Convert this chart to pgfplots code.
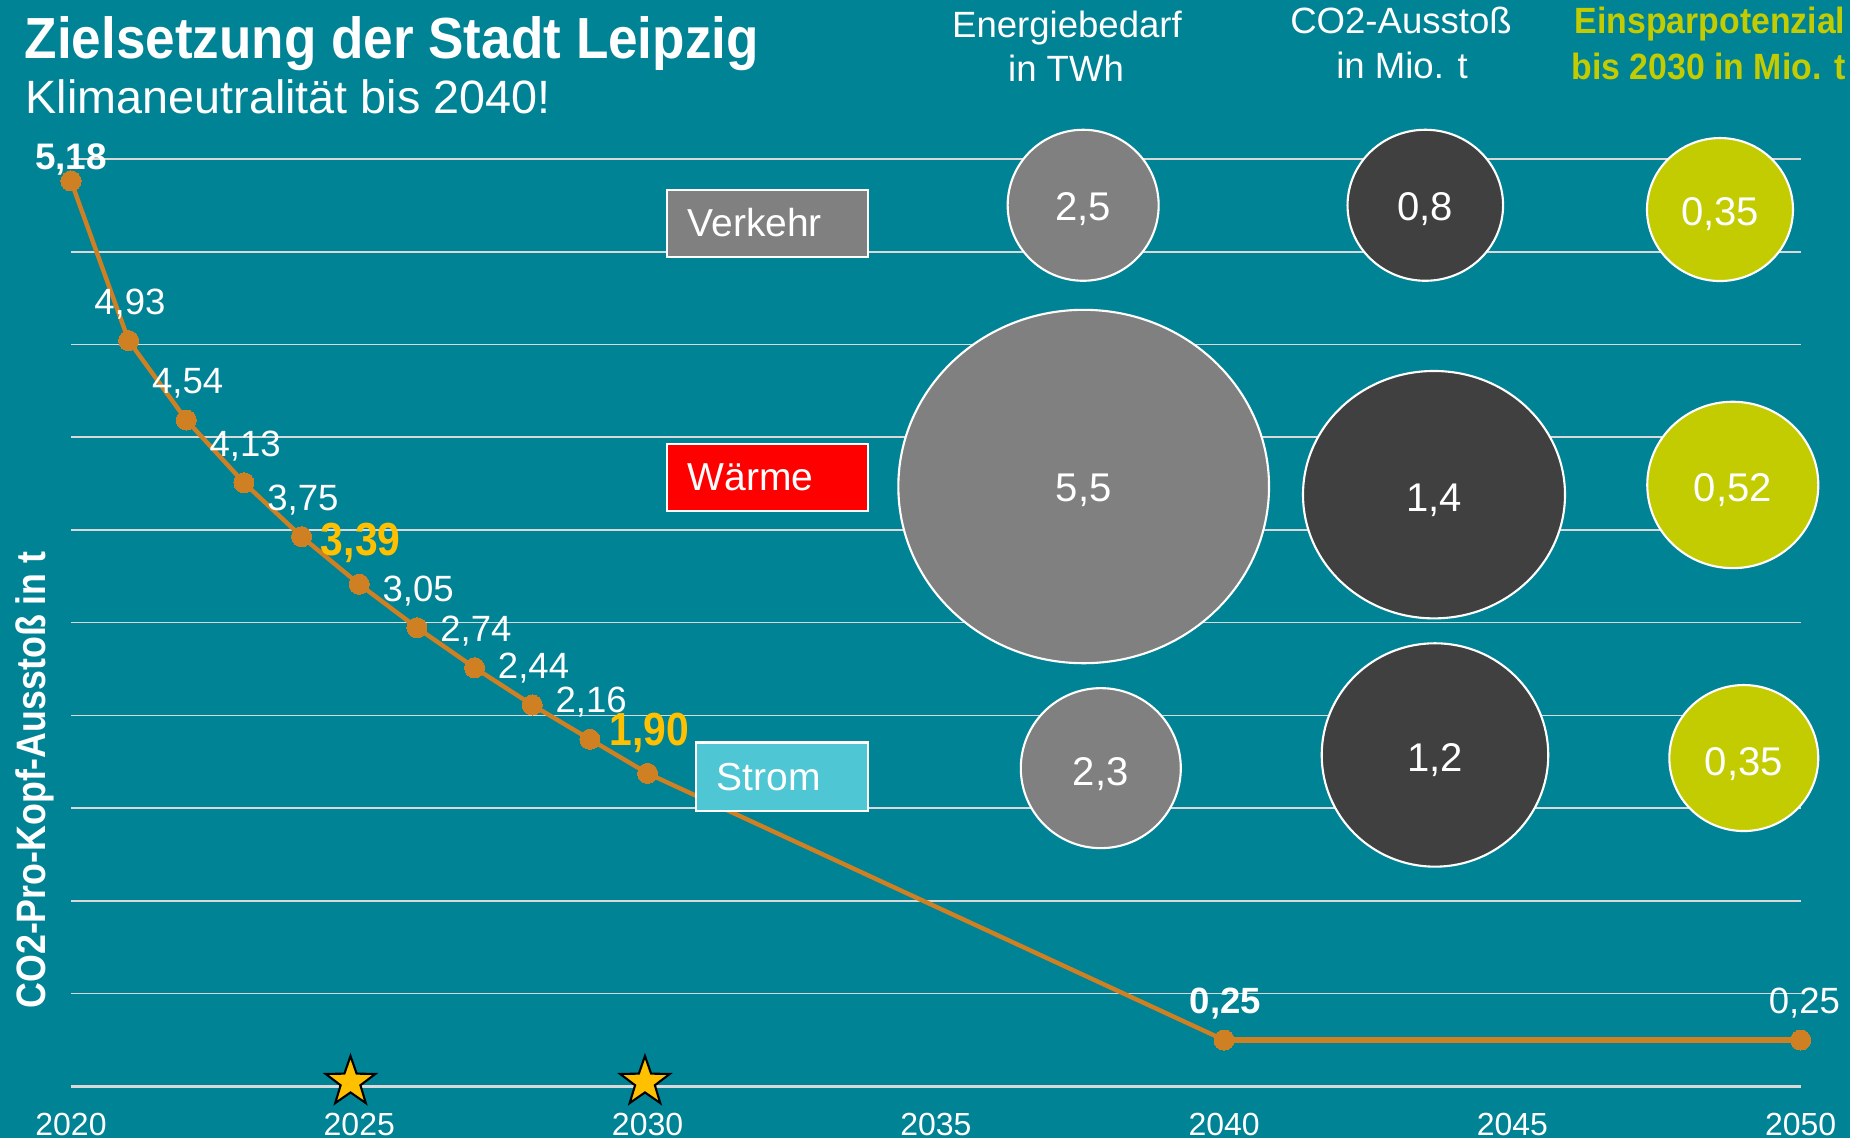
\documentclass[border=0pt]{standalone}
\usepackage{fontspec}
\setmainfont{Liberation Sans}
\newfontfamily\titlefont{Liberation Sans}[FakeStretch=0.915]
\newfontfamily\ylabfont{Liberation Sans}[FakeStretch=0.87]
\newfontfamily\hlfont{Liberation Sans}[FakeStretch=0.88]
\newfontfamily\hdfont{Liberation Sans}[FakeStretch=0.925]
\usepackage{pgfplots}
\pgfplotsset{compat=1.18}

\definecolor{bg}{RGB}{0,131,149}
\definecolor{gridc}{RGB}{217,217,217}
\definecolor{linec}{RGB}{207,128,35}
\definecolor{gbub}{RGB}{128,128,128}
\definecolor{dbub}{RGB}{64,64,64}
\definecolor{ybub}{RGB}{195,204,0}
\definecolor{gold}{RGB}{255,192,0}
\definecolor{strom}{RGB}{78,198,212}
\definecolor{rot}{RGB}{255,0,0}

\pgfdeclareplotmark{fstar}{%
  \pgfpathmoveto{\pgfpointpolar{90}{\pgfplotmarksize}}%
  \pgfpathlineto{\pgfpointpolar{126}{0.4*\pgfplotmarksize}}%
  \pgfpathlineto{\pgfpointpolar{162}{\pgfplotmarksize}}%
  \pgfpathlineto{\pgfpointpolar{198}{0.4*\pgfplotmarksize}}%
  \pgfpathlineto{\pgfpointpolar{234}{\pgfplotmarksize}}%
  \pgfpathlineto{\pgfpointpolar{270}{0.4*\pgfplotmarksize}}%
  \pgfpathlineto{\pgfpointpolar{306}{\pgfplotmarksize}}%
  \pgfpathlineto{\pgfpointpolar{342}{0.4*\pgfplotmarksize}}%
  \pgfpathlineto{\pgfpointpolar{18}{\pgfplotmarksize}}%
  \pgfpathlineto{\pgfpointpolar{54}{0.4*\pgfplotmarksize}}%
  \pgfpathclose
  \pgfusepathqfillstroke}

\tikzset{
  dl/.style={anchor=base west, inner sep=0pt, text=white, font=\fontsize{10.4}{12}\selectfont, xshift=-3.5mm, yshift=2.65mm},
  hl/.style={anchor=base west, inner sep=0pt, text=gold, font=\hlfont\bfseries\fontsize{13.2}{15}\selectfont, xshift=-3.9mm, yshift=2.9mm},
  bt/.style={anchor=base, inner sep=0pt, text=white, font=\fontsize{11.4}{13}\selectfont, yshift=-1.5mm},
  hd/.style={anchor=base, inner sep=0pt, text=white, font=\fontsize{10.4}{12}\selectfont},
  bx/.style={draw=white, line width=0.6pt},
  bxt/.style={anchor=base west, inner sep=0pt, text=white, font=\fontsize{11.1}{13}\selectfont},
}

\begin{document}
\begin{tikzpicture}
\path[use as bounding box, clip] (0,0) rectangle (185mm,-113.8mm);
\fill[bg] (0,0) rectangle (185mm,-113.8mm);

\begin{axis}[
  at={(7.1mm,-108.63mm)}, anchor=south west,
  width=172.97mm, height=92.73mm, scale only axis,
  xmin=2020, xmax=2050, ymin=0, ymax=10,
  clip=false,
  axis line style={draw=none},
  major tick style={draw=none},
  xtick={2020,2025,...,2050},
  ytick={0,1,...,10},
  yticklabel=\empty,
  ymajorgrids,
  grid style={gridc, line width=0.45pt},
  extra y ticks={0},
  extra y tick labels={},
  extra y tick style={grid style={gridc, line width=0.75pt}},
  xticklabel style={text=white, font=\fontsize{9.1}{10}\selectfont, anchor=base, yshift=-4.87mm},
  /pgf/number format/1000 sep={},
  /pgf/number format/assume math mode=true,
]
% bubbles: Energiebedarf
\addplot[only marks, mark=*, mark size=7.55mm, mark options={fill=gbub, draw=white, line width=0.6pt}] coordinates {(2037.555,9.501)};
\addplot[only marks, mark=*, mark size=17.67mm, mark options={xscale=1.049, fill=gbub, draw=white, line width=0.6pt}] coordinates {(2037.564,6.468)};
\addplot[only marks, mark=*, mark size=8.0mm, mark options={fill=gbub, draw=white, line width=0.6pt}] coordinates {(2037.861,3.431)};
% bubbles: CO2
\addplot[only marks, mark=*, mark size=7.55mm, mark options={xscale=1.03, fill=dbub, draw=white, line width=0.6pt}] coordinates {(2043.489,9.501)};
\addplot[only marks, mark=*, mark size=12.37mm, mark options={xscale=1.059, fill=dbub, draw=white, line width=0.6pt}] coordinates {(2043.640,6.380)};
\addplot[only marks, mark=*, mark size=11.17mm, mark options={xscale=1.014, fill=dbub, draw=white, line width=0.6pt}] coordinates {(2043.657,3.573)};
% bubbles: Einsparpotenzial
\addplot[only marks, mark=*, mark size=7.15mm, mark options={xscale=1.021, fill=ybub, draw=white, line width=0.6pt}] coordinates {(2048.600,9.455)};
\addplot[only marks, mark=*, mark size=8.32mm, mark options={xscale=1.028, fill=ybub, draw=white, line width=0.6pt}] coordinates {(2048.822,6.485)};
\addplot[only marks, mark=*, mark size=7.3mm, mark options={xscale=1.02, fill=ybub, draw=white, line width=0.6pt}] coordinates {(2049.013,3.540)};

% CO2 per capita line
\addplot[linec, line width=1.25pt, mark=*, mark size=2.85pt, mark options={fill=linec, draw=linec, line width=0pt}] table {
x y
2020 9.763
2021 8.041
2022 7.185
2023 6.509
2024 5.927
2025 5.414
2026 4.946
2027 4.514
2028 4.112
2029 3.742
2030 3.375
2040 0.499
};
\addplot[linec, line width=1.8pt, mark=*, mark size=2.85pt, mark options={fill=linec, draw=linec, line width=0pt}] table {
x y
2040 0.499
2050 0.499
};
% stars
\addplot[only marks, mark=fstar, mark size=7.4pt, mark options={fill=gold, draw=black, line width=0.6pt}] table {
x y
2024.848 0.046
2029.955 0.046
};

% data labels
\node[anchor=base west, inner sep=0pt, text=white, font=\bfseries\fontsize{10.5}{12}\selectfont, xshift=-3.67mm, yshift=1.17mm] at (axis cs:2020,9.763) {5,18};
\node[dl] at (axis cs:2021,8.041) {4,93};
\node[dl] at (axis cs:2022,7.185) {4,54};
\node[dl] at (axis cs:2023,6.509) {4,13};
\node[dl] at (axis cs:2024,5.927) {3,75};
\node[hl] at (axis cs:2025,5.414) {3,39};
\node[dl] at (axis cs:2026,4.946) {3,05};
\node[dl] at (axis cs:2027,4.514) {2,74};
\node[dl] at (axis cs:2028,4.112) {2,44};
\node[dl] at (axis cs:2029,3.742) {2,16};
\node[hl, xshift=0.03mm, yshift=-0.1mm] at (axis cs:2030,3.375) {1,90};
\node[dl, font=\bfseries\fontsize{10.4}{12}\selectfont] at (axis cs:2040,0.499) {0,25};
\node[dl, xshift=0.25mm] at (axis cs:2050,0.499) {0,25};
\end{axis}

\begin{scope}[x=0.1mm, y=-0.1mm]
% bubble labels
\node[bt] at (1083.2,205.3) {2,5};
\node[bt] at (1083.7,486.5) {5,5};
\node[bt] at (1100.8,770) {2,3};
\node[bt] at (1425.3,205.3) {0,8};
\node[bt] at (1434,496) {1,4};
\node[bt] at (1435,756) {1,2};
\node[bt] at (1720,211) {0,35};
\node[bt] at (1732.8,486) {0,52};
\node[bt] at (1743.8,760) {0,35};

% category boxes
\fill[gbub] (666.6,190) rectangle (868.4,257.2);
\draw[bx] (666.6,190) rectangle (868.4,257.2);
\node[bxt] at (686.8,237) {Verkehr};
\fill[rot] (666.6,443.7) rectangle (868.4,511);
\draw[bx] (666.6,443.7) rectangle (868.4,511);
\node[bxt] at (686.8,491) {Wärme};
\fill[strom] (696,742.5) rectangle (868.4,810.7);
\draw[bx] (696,742.5) rectangle (868.4,810.7);
\node[bxt] at (716,790) {Strom};

% titles
\node[anchor=base west, inner sep=0pt, text=white, font=\titlefont\bfseries\fontsize{16.5}{20}\selectfont] at (24,58.3) {Zielsetzung der Stadt Leipzig};
\node[anchor=base west, inner sep=0pt, text=white, font=\fontsize{13.3}{16}\selectfont] at (25,113.3) {Klimaneutralität bis 2040!};

% column headers
\node[hd] at (1067,38) {Energiebedarf};
\node[hd] at (1066,81.7) {in TWh};
\node[hd] at (1401,34) {CO2-Ausstoß};
\node[hd] at (1402,79) {in Mio. t};
\node[hd, anchor=base east, text=ybub, font=\hdfont\bfseries\fontsize{10.4}{12}\selectfont] at (1846,34) {Einsparpotenzial};
\node[hd, anchor=base east, text=ybub, font=\hdfont\bfseries\fontsize{10.4}{12}\selectfont] at (1846,80) {bis 2030 in Mio. t};

% y axis label
\node[rotate=90, anchor=base, inner sep=0pt, text=white, font=\ylabfont\bfseries\fontsize{11.7}{14}\selectfont] at (45,780) {CO2-Pro-Kopf-Ausstoß in t};
\end{scope}
\end{tikzpicture}
\end{document}
